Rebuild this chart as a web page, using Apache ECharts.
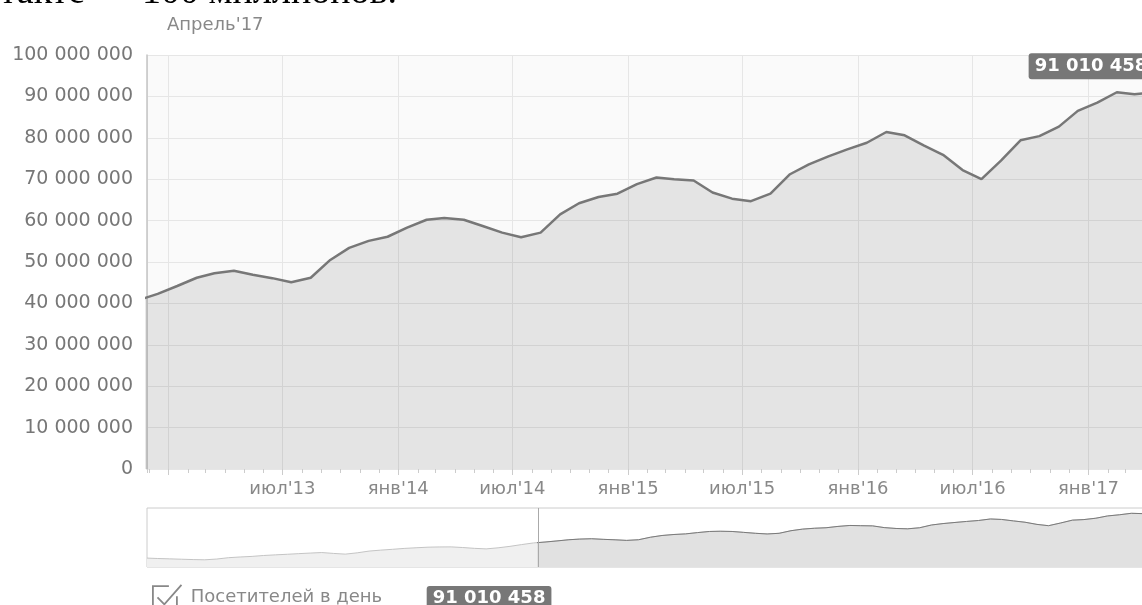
<!DOCTYPE html>
<html>
<head>
<meta charset="utf-8">
<script src="https://cdn.jsdelivr.net/npm/echarts@6/dist/echarts.min.js"></script>
<style>
  html, body { margin: 0; padding: 0; background: #fff; }
  #chart { width: 1142px; height: 605px; }
</style>
</head>
<body>
<div id="chart"></div>
<script>
// ====== посетителей в день, по месяцам (середина месяца) ======
const firstMonth = [2010, 2];
const visitors = [
  // 2010 (фев–дек)
  15100000, 14400000, 13800000, 13200000, 12600000, 12200000, 13500000, 15800000, 17000000, 18000000, 19500000,
  // 2011
  20600000, 21600000, 22600000, 23600000, 24500000, 23000000, 21800000, 24000000, 27000000, 28600000, 30000000, 31500000,
  // 2012
  32600000, 33600000, 34000000, 34100000, 33000000, 31600000, 30700000, 32500000, 35000000, 38000000, 40800000, 42300000,
  // 2013
  44200000, 46200000, 47300000, 47900000, 46900000, 46100000, 45100000, 46200000, 50500000, 53400000, 55100000, 56100000,
  // 2014
  58300000, 60200000, 60600000, 60200000, 58700000, 57100000, 56000000, 57100000, 61500000, 64200000, 65700000, 66500000,
  // 2015
  68800000, 70400000, 70000000, 69700000, 66800000, 65300000, 64700000, 66500000, 71200000, 73600000, 75500000, 77200000,
  // 2016
  78800000, 81400000, 80600000, 78100000, 75900000, 72200000, 70000000, 74500000, 79400000, 80400000, 82700000, 86500000,
  // 2017 (янв–апр)
  88500000, 91000000, 90500000, 91010458,
];

const viewStart = "2012-11-28";   // левый край основного графика (начало выделения в навигаторе)
const labelsFrom = "2013-03-01";  // подписи оси раньше этой даты не выводятся
const monthShort = ["янв", "фев", "мар", "апр", "май", "июн", "июл", "авг", "сен", "окт", "ноя", "дек"];
const monthFull = ["Январь", "Февраль", "Март", "Апрель", "Май", "Июнь", "Июль", "Август", "Сентябрь", "Октябрь", "Ноябрь", "Декабрь"];
const seriesName = "Посетителей в день";
const headline = "ВКонтакте — 100 миллионов.";

// даты точек: 15-е число каждого месяца
const months = visitors.map((_, i) => {
  const t = firstMonth[1] - 1 + i;
  const y = firstMonth[0] + Math.floor(t / 12);
  return y + "-" + String((t % 12) + 1).padStart(2, "0") + "-15";
});
const points = months.map((d, i) => [d, visitors[i]]);

const FONT = "DejaVu Sans";
const ts = (s) => +echarts.time.parse(s);
const fmt = (v) => String(Math.round(v)).replace(/\B(?=(\d{3})+(?!\d))/g, " ");
const last = points[points.length - 1];
const header = monthFull[+last[0].slice(5, 7) - 1] + "'" + last[0].slice(2, 4);
const DAY = 24 * 3600 * 1000;

// область графика шире окна: правый край обрезан, как в оригинале
const plotLeft = 147;
const plotWidth = 1007;
// выделенная часть навигатора — отдельная сетка поверх всего навигатора
const selFrac = (ts(viewStart) - ts(months[0])) / (ts(last[0]) - ts(months[0]));
const selLeft = plotLeft + selFrac * plotWidth;

const checkboxIcon = "path://M15,3H1V23H22V12M5,13L11,19L26,2";

const chart = echarts.init(document.getElementById("chart"));

chart.setOption({
  animation: false,
  backgroundColor: "#fff",
  textStyle: { fontFamily: FONT },
  title: {
    text: header,
    left: 162,
    top: 11,
    textStyle: { color: "#888", fontSize: 18, fontWeight: "normal", fontFamily: FONT },
  },
  graphic: [
    {
      type: "text",
      x: 397,
      y: 12,
      silent: true,
      style: {
        text: headline,
        font: '38px "Liberation Serif"',
        fill: "#000",
        align: "right",
        verticalAlign: "bottom",
      },
    },
  ],
  legend: {
    left: 152,
    top: 584,
    padding: 0,
    selectedMode: false,
    data: [{ name: seriesName, icon: checkboxIcon }],
    itemWidth: 29,
    itemHeight: 24,
    itemStyle: { color: "rgba(0,0,0,0)", borderColor: "#888", borderWidth: 1.8 },
    formatter: (name) => "{n|" + name + "}{v|" + fmt(last[1]) + "}",
    textStyle: {
      fontFamily: FONT,
      rich: {
        n: { color: "#888", fontSize: 18, fontFamily: FONT, width: 236, padding: [0, 0, 0, 4] },
        v: {
          color: "#fff", fontSize: 18, fontWeight: "bold", fontFamily: FONT,
          backgroundColor: "#777", borderRadius: 3, padding: [3, 6, 1, 6],
        },
      },
    },
  },
  grid: [
    {
      left: plotLeft, width: plotWidth, top: 55, height: 414, outerBoundsMode: "none",
      show: true, backgroundColor: "#fafafa", borderWidth: 0,
    },
    {
      left: plotLeft, width: plotWidth, top: 508, height: 59, outerBoundsMode: "none",
      show: true, backgroundColor: "#fff", borderColor: "#ccc", borderWidth: 1,
    },
    {
      left: selLeft, width: plotLeft + plotWidth - selLeft, top: 508, height: 59,
      outerBoundsMode: "none", show: false,
    },
  ],
  xAxis: [
    {
      type: "time",
      gridIndex: 0,
      position: "bottom",
      min: ts(viewStart),
      max: ts(last[0]),
      minInterval: 182 * DAY,
      maxInterval: 182 * DAY,
      axisLine: { show: false },
      axisTick: { show: true, length: 6, lineStyle: { color: "#ccc" } },
      axisLabel: {
        color: "#888",
        fontSize: 18,
        fontFamily: FONT,
        margin: 11,
        formatter: (v) => {
          if (v < ts(labelsFrom)) return "";
          const d = new Date(v);
          return monthShort[d.getMonth()] + "'" + String(d.getFullYear()).slice(2);
        },
      },
      splitLine: { show: true, lineStyle: { color: "#e6e6e6", width: 1 } },
    },
    {
      // помесячные засечки
      type: "time",
      gridIndex: 0,
      position: "bottom",
      min: ts(viewStart),
      max: ts(last[0]),
      minInterval: 30 * DAY,
      maxInterval: 30 * DAY,
      axisLine: { show: false },
      axisTick: { show: true, length: 4, lineStyle: { color: "#ccc" } },
      axisLabel: { show: false },
      splitLine: { show: false },
    },
    { type: "time", gridIndex: 1, min: ts(months[0]), max: ts(last[0]), show: false },
    { type: "time", gridIndex: 2, min: ts(viewStart), max: ts(last[0]), show: false },
  ],
  yAxis: [
    {
      type: "value",
      gridIndex: 0,
      min: 0,
      max: 100000000,
      interval: 10000000,
      axisLine: { show: true, lineStyle: { color: "#c4c4c4", width: 1.5 } },
      axisTick: { show: false },
      axisLabel: { color: "#777", fontSize: 19, fontFamily: FONT, margin: 14, formatter: fmt },
      splitLine: { lineStyle: { color: "#e6e6e6" } },
    },
    { type: "value", gridIndex: 1, min: 0, max: 100000000, show: false },
    { type: "value", gridIndex: 2, min: 0, max: 100000000, show: false },
  ],
  series: [
    {
      name: seriesName,
      type: "line",
      data: points,
      symbol: "none",
      lineStyle: { color: "#777", width: 2.5 },
      itemStyle: { color: "#777" },
      areaStyle: { color: "rgba(0,0,0,0.125)" },
      markPoint: {
        silent: true,
        symbol: "circle",
        symbolSize: 0,
        data: [{ coord: [ts(last[0]), last[1]], value: last[1] }],
        label: {
          show: true,
          position: "inside",
          offset: [-63, -26],
          formatter: (p) => fmt(p.value),
          color: "#fff",
          fontSize: 18,
          fontWeight: "bold",
          fontFamily: FONT,
          backgroundColor: "#777",
          borderRadius: 3,
          padding: [5, 6, 3, 6],
        },
      },
    },
    {
      name: "nav-all",
      type: "line",
      xAxisIndex: 2,
      yAxisIndex: 1,
      data: points,
      symbol: "none",
      silent: true,
      lineStyle: { color: "#c4c4c4", width: 1 },
      areaStyle: { color: "#f0f0f0", opacity: 1 },
    },
    {
      name: "nav-selected",
      type: "line",
      xAxisIndex: 3,
      yAxisIndex: 2,
      data: points,
      symbol: "none",
      silent: true,
      lineStyle: { color: "#7a7a7a", width: 1 },
      areaStyle: { color: "#e1e1e1", opacity: 1 },
      markLine: {
        silent: true,
        symbol: "none",
        label: { show: false },
        lineStyle: { color: "#aaa", width: 1, type: "solid" },
        data: [{ xAxis: ts(viewStart) }],
      },
    },
  ],
});
</script>
</body>
</html>
